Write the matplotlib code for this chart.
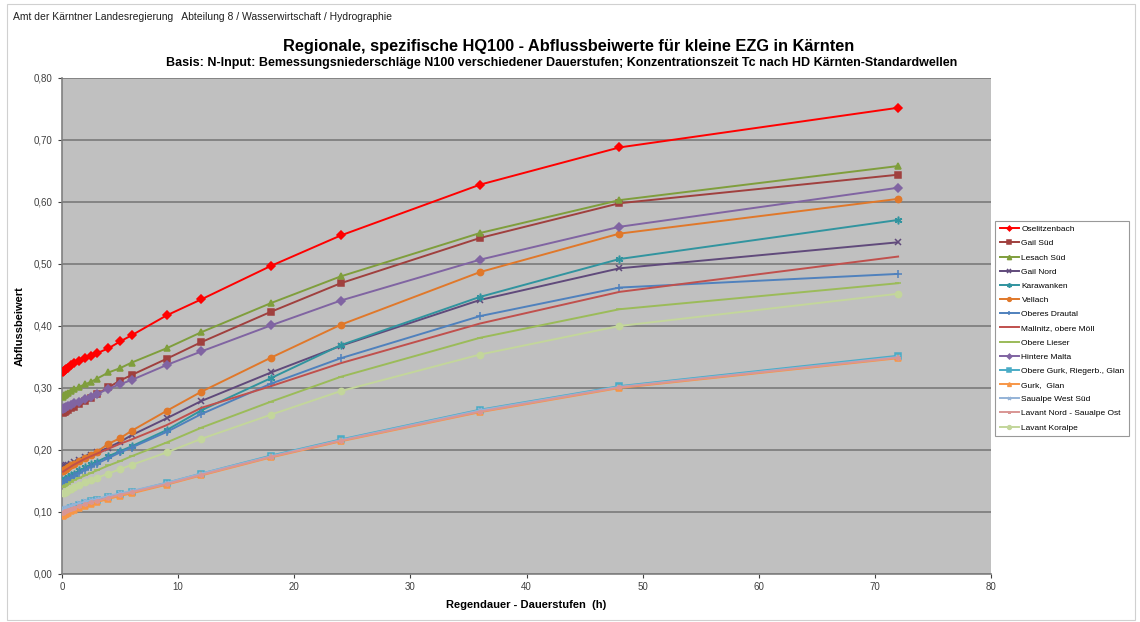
import matplotlib
matplotlib.use("Agg")
import matplotlib.pyplot as plt
from matplotlib.ticker import FuncFormatter

plt.rcParams['font.family'] = ['Liberation Sans', 'DejaVu Sans']

# Dauerstufen (h)
durations = [0.083, 0.167, 0.25, 0.333, 0.5, 0.75, 1, 1.5, 2, 2.5, 3, 4, 5, 6, 9, 12, 18, 24, 36, 48, 72]

oselitzenbach = [0.325, 0.327, 0.329, 0.331, 0.333, 0.337, 0.340, 0.343, 0.348, 0.352, 0.356, 0.364, 0.375, 0.385, 0.417, 0.443, 0.497, 0.546, 0.628, 0.688, 0.752]
gail_sued = [0.260, 0.261, 0.262, 0.263, 0.265, 0.267, 0.270, 0.274, 0.279, 0.284, 0.290, 0.301, 0.312, 0.321, 0.347, 0.374, 0.423, 0.469, 0.542, 0.598, 0.644]
lesach_sued = [0.286, 0.288, 0.289, 0.291, 0.292, 0.295, 0.298, 0.302, 0.306, 0.310, 0.315, 0.325, 0.332, 0.341, 0.364, 0.390, 0.437, 0.480, 0.550, 0.603, 0.658]
gail_nord = [0.172, 0.173, 0.174, 0.175, 0.176, 0.178, 0.180, 0.184, 0.188, 0.192, 0.196, 0.204, 0.213, 0.224, 0.251, 0.279, 0.325, 0.368, 0.442, 0.493, 0.535]
karawanken = [0.150, 0.152, 0.153, 0.154, 0.156, 0.159, 0.162, 0.167, 0.172, 0.177, 0.181, 0.190, 0.198, 0.206, 0.232, 0.264, 0.316, 0.369, 0.447, 0.508, 0.571]
vellach = [0.166, 0.167, 0.169, 0.170, 0.172, 0.175, 0.178, 0.182, 0.187, 0.192, 0.197, 0.210, 0.219, 0.231, 0.263, 0.294, 0.349, 0.402, 0.487, 0.549, 0.605]
oberes_drautal = [0.145, 0.147, 0.148, 0.150, 0.152, 0.155, 0.158, 0.163, 0.168, 0.173, 0.178, 0.187, 0.196, 0.204, 0.229, 0.258, 0.307, 0.348, 0.416, 0.462, 0.484]
mallnitz = [0.165, 0.166, 0.167, 0.168, 0.170, 0.173, 0.176, 0.181, 0.186, 0.190, 0.194, 0.202, 0.210, 0.217, 0.240, 0.268, 0.303, 0.340, 0.404, 0.455, 0.512]
obere_lieser = [0.140, 0.141, 0.142, 0.143, 0.145, 0.148, 0.151, 0.155, 0.159, 0.163, 0.167, 0.175, 0.182, 0.190, 0.212, 0.236, 0.278, 0.318, 0.381, 0.427, 0.469]
hintere_malta = [0.266, 0.267, 0.268, 0.269, 0.271, 0.273, 0.275, 0.278, 0.282, 0.286, 0.290, 0.299, 0.306, 0.313, 0.337, 0.359, 0.401, 0.441, 0.507, 0.560, 0.623]
obere_gurk = [0.100, 0.101, 0.102, 0.103, 0.104, 0.106, 0.108, 0.111, 0.114, 0.117, 0.119, 0.124, 0.129, 0.133, 0.147, 0.162, 0.191, 0.217, 0.265, 0.303, 0.352]
gurk_glan = [0.094, 0.095, 0.096, 0.097, 0.099, 0.101, 0.103, 0.107, 0.110, 0.113, 0.116, 0.121, 0.126, 0.130, 0.144, 0.159, 0.188, 0.214, 0.261, 0.300, 0.348]
saualpe_west_sued = [0.104, 0.105, 0.106, 0.107, 0.108, 0.110, 0.112, 0.114, 0.117, 0.119, 0.121, 0.126, 0.130, 0.134, 0.147, 0.162, 0.190, 0.216, 0.264, 0.302, 0.350]
lavant_nord = [0.099, 0.100, 0.101, 0.102, 0.103, 0.105, 0.107, 0.110, 0.113, 0.116, 0.118, 0.123, 0.128, 0.132, 0.145, 0.160, 0.189, 0.215, 0.262, 0.301, 0.349]
lavant_koralpe = [0.130, 0.131, 0.132, 0.133, 0.135, 0.137, 0.140, 0.144, 0.148, 0.152, 0.155, 0.162, 0.169, 0.176, 0.196, 0.218, 0.257, 0.295, 0.354, 0.400, 0.452]

series = [
    ("Oselitzenbach", oselitzenbach, "#FF0000", "D", 4),
    ("Gail Süd", gail_sued, "#A0403E", "s", 4.5),
    ("Lesach Süd", lesach_sued, "#7F9E3C", "^", 5),
    ("Gail Nord", gail_nord, "#604A7B", "x", 4.5),
    ("Karawanken", karawanken, "#31949F", (6, 2, 0), 5.5),
    ("Vellach", vellach, "#E0782A", "o", 4.5),
    ("Oberes Drautal", oberes_drautal, "#4F81BD", "+", 5.5),
    ("Mallnitz, obere Möll", mallnitz, "#C0504D", "", 0),
    ("Obere Lieser", obere_lieser, "#9BBB59", "_", 4),
    ("Hintere Malta", hintere_malta, "#8064A2", "D", 4),
    ("Obere Gurk, Riegerb., Glan", obere_gurk, "#4BACC6", "s", 4),
    ("Gurk,  Glan", gurk_glan, "#F79646", "^", 4.5),
    ("Saualpe West Süd", saualpe_west_sued, "#95B3D7", "x", 3.5),
    ("Lavant Nord - Saualpe Ost", lavant_nord, "#D99694", (6, 2, 0), 3.5),
    ("Lavant Koralpe", lavant_koralpe, "#C3D69B", "o", 4.5),
]

y_ticks = [0.0, 0.1, 0.2, 0.3, 0.4, 0.5, 0.6, 0.7, 0.8]
x_ticks = [0, 10, 20, 30, 40, 50, 60, 70, 80]

fig = plt.figure(figsize=(11.4, 6.22), dpi=100)
fig.patch.set_facecolor("white")

# outer frame of the chart area
frame = plt.Rectangle((0.006, 0.004), 0.99, 0.99, transform=fig.transFigure,
                      fill=False, edgecolor="#D0D0D0", linewidth=0.8)
fig.add_artist(frame)

ax = fig.add_axes([0.0544, 0.0772, 0.8149, 0.7974])
ax.set_facecolor("#C0C0C0")

for name, vals, color, marker, ms in series:
    ax.plot(durations, vals, color=color, linewidth=1.4, marker=marker if marker else None,
            markersize=ms, markeredgewidth=1.1, markerfacecolor=color,
            markeredgecolor=color, label=name, zorder=3)

ax.set_xlim(0, 80)
ax.set_ylim(0, 0.8)
ax.set_xticks(x_ticks)
ax.set_yticks(y_ticks)
ax.yaxis.set_major_formatter(FuncFormatter(lambda v, p: f"{v:.2f}".replace(".", ",")))
ax.grid(axis="y", color="#7F7F7F", linewidth=1.3, zorder=1)
ax.set_axisbelow(True)
for side in ("top", "right"):
    ax.spines[side].set_visible(False)
ax.spines["left"].set_color("#808080")
ax.spines["bottom"].set_color("#808080")
ax.spines["left"].set_linewidth(1.2)
ax.spines["bottom"].set_linewidth(1.2)
ax.tick_params(axis="both", labelsize=7, colors="#404040", length=3, width=0.8)
ax.tick_params(axis="y", direction="out", pad=4)
ax.tick_params(axis="x", direction="out", pad=3)

ax.set_xlabel("Regendauer - Dauerstufen  (h)", fontsize=8, fontweight="bold")
ax.xaxis.set_label_coords(0.5, -0.052)
ax.set_ylabel("Abflussbeiwert", fontsize=8, fontweight="bold")
ax.yaxis.set_label_coords(-0.040, 0.5)

fig.text(0.011, 0.972, "Amt der Kärntner Landesregierung   Abteilung 8 / Wasserwirtschaft / Hydrographie",
         fontsize=7.5, ha="left", va="center", color="#202020")
fig.text(0.499, 0.926, "Regionale, spezifische HQ100 - Abflussbeiwerte für kleine EZG in Kärnten",
         fontsize=11.8, fontweight="bold", ha="center", va="center")
fig.text(0.493, 0.899, "Basis: N-Input: Bemessungsniederschläge N100 verschiedener Dauerstufen; Konzentrationszeit Tc nach HD Kärnten-Standardwellen",
         fontsize=9, fontweight="bold", ha="center", va="center")

leg = fig.legend(loc="upper left", bbox_to_anchor=(0.873, 0.645), borderaxespad=0,
                 fontsize=6.0, frameon=True, fancybox=False, edgecolor="#808080",
                 handlelength=2.3, handletextpad=0.3, labelspacing=0.76, borderpad=0.55,
                 markerscale=0.6)
leg.get_frame().set_linewidth(0.8)

fig.savefig("out.png", dpi=100)
